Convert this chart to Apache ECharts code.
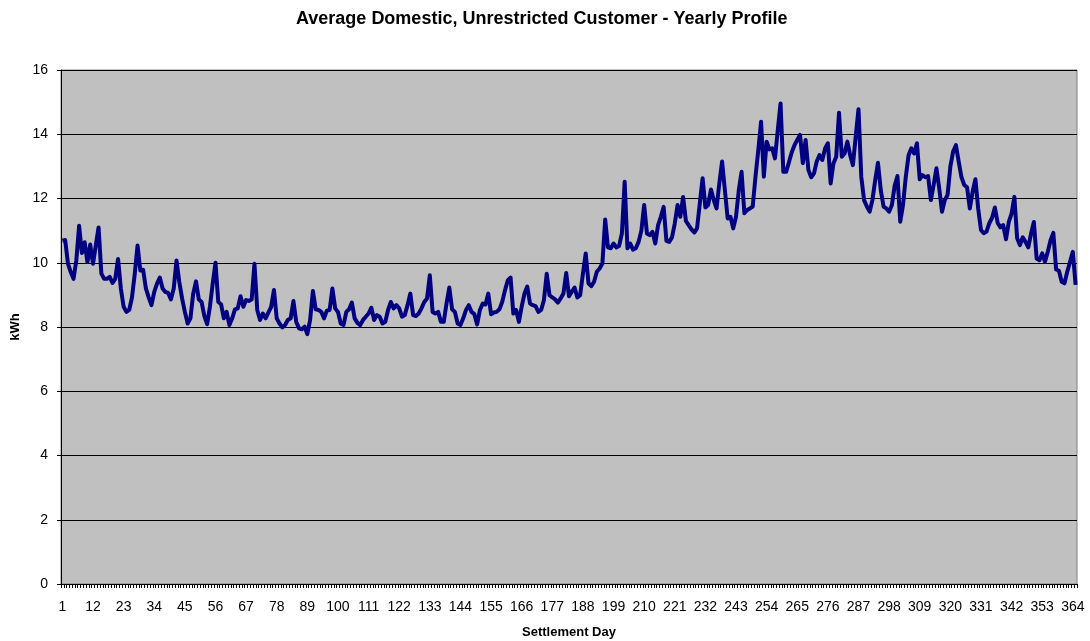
<!DOCTYPE html>
<html>
<head>
<meta charset="utf-8">
<script src="https://cdn.jsdelivr.net/npm/echarts@6/dist/echarts.min.js"></script>
<style>
  html, body { margin: 0; padding: 0; background: #fff; }
  #main { width: 1090px; height: 641px; }
</style>
</head>
<body>
<div id="main"></div>
<script>
// average kWh per settlement day
var kwh = [
  10.69, 10.71, 9.97, 9.71, 9.5, 10.07, 11.15, 10.3, 10.64, 10.02,
  10.57, 9.97, 10.54, 11.1, 9.66, 9.5, 9.5, 9.56, 9.37, 9.5,
  10.12, 9.2, 8.63, 8.47, 8.53, 8.92, 9.66, 10.54, 9.76, 9.78,
  9.2, 8.92, 8.68, 9.09, 9.35, 9.54, 9.2, 9.09, 9.06, 8.86,
  9.2, 10.07, 9.4, 8.89, 8.47, 8.11, 8.27, 9.04, 9.42, 8.86,
  8.78, 8.34, 8.09, 8.63, 9.35, 10.0, 8.78, 8.71, 8.27, 8.47,
  8.06, 8.27, 8.55, 8.58, 8.96, 8.63, 8.84, 8.81, 8.86, 9.97,
  8.53, 8.22, 8.42, 8.27, 8.45, 8.63, 9.15, 8.27, 8.11, 7.99,
  8.06, 8.22, 8.27, 8.81, 8.16, 7.96, 7.93, 8.01, 7.78, 8.22,
  9.12, 8.55, 8.53, 8.47, 8.27, 8.51, 8.53, 9.2, 8.58, 8.47,
  8.11, 8.06, 8.47, 8.55, 8.76, 8.27, 8.13, 8.06, 8.22, 8.32,
  8.42, 8.6, 8.22, 8.37, 8.32, 8.11, 8.16, 8.53, 8.78, 8.58,
  8.68, 8.58, 8.32, 8.37, 8.68, 9.04, 8.37, 8.34, 8.42, 8.58,
  8.78, 8.89, 9.61, 8.47, 8.42, 8.47, 8.16, 8.16, 8.73, 9.23,
  8.55, 8.47, 8.11, 8.06, 8.27, 8.53, 8.68, 8.47, 8.4, 8.08,
  8.53, 8.73, 8.7, 9.04, 8.4, 8.45, 8.47, 8.55, 8.78, 9.14,
  9.45, 9.54, 8.42, 8.53, 8.16, 8.63, 9.04, 9.26, 8.73, 8.68,
  8.65, 8.47, 8.53, 8.84, 9.66, 8.99, 8.92, 8.86, 8.76, 8.89,
  9.04, 9.68, 8.96, 9.1, 9.23, 8.92, 8.99, 9.66, 10.29, 9.36,
  9.27, 9.41, 9.72, 9.82, 9.98, 11.35, 10.48, 10.45, 10.6, 10.48,
  10.52, 10.91, 12.52, 10.45, 10.6, 10.41, 10.45, 10.65, 11.0, 11.8,
  10.91, 10.86, 10.96, 10.6, 11.17, 11.43, 11.74, 10.68, 10.65, 10.79,
  11.22, 11.8, 11.43, 12.05, 11.3, 11.17, 11.04, 10.94, 11.07, 11.85,
  12.63, 11.72, 11.8, 12.28, 11.95, 11.69, 12.47, 13.15, 12.26, 11.38,
  11.43, 11.07, 11.43, 12.26, 12.83, 11.54, 11.64, 11.69, 11.75, 12.68,
  13.5, 14.39, 12.68, 13.77, 13.53, 13.56, 13.25, 14.13, 14.96, 12.83,
  12.83, 13.12, 13.43, 13.66, 13.82, 13.98, 13.1, 13.82, 12.89, 12.66,
  12.78, 13.15, 13.35, 13.2, 13.56, 13.72, 12.47, 13.09, 13.3, 14.67,
  13.3, 13.4, 13.77, 13.35, 13.04, 13.92, 14.78, 12.68, 11.95, 11.75,
  11.59, 11.95, 12.57, 13.11, 12.26, 11.75, 11.69, 11.59, 11.8, 12.4,
  12.7, 11.28, 11.8, 12.68, 13.35, 13.56, 13.4, 13.72, 12.6, 12.73,
  12.66, 12.7, 11.95, 12.42, 12.94, 12.32, 11.59, 11.95, 12.11, 12.99,
  13.46, 13.66, 13.15, 12.66, 12.42, 12.35, 11.69, 12.21, 12.6, 11.69,
  11.02, 10.92, 10.97, 11.23, 11.4, 11.72, 11.24, 11.1, 11.17, 10.73,
  11.27, 11.53, 12.05, 10.76, 10.55, 10.79, 10.65, 10.48, 10.91, 11.27,
  10.13, 10.08, 10.29, 10.03, 10.34, 10.7, 10.93, 9.79, 9.75, 9.41,
  9.36, 9.72, 10.03, 10.34, 9.31
];

// settlement days 1..365
var days = [];
for (var i = 1; i <= kwh.length; i++) days.push(String(i));

var myChart = echarts.init(document.getElementById('main'));
var font = 'Liberation Sans, Arial, Helvetica, sans-serif';

option = {
    animation: false,
    textStyle: { fontFamily: font },
    title: {
        text: 'Average Domestic, Unrestricted Customer - Yearly Profile',
        left: 291,
        top: 5,
        textStyle: { fontSize: 18, fontWeight: 'bold', color: '#000', fontFamily: font }
    },
    grid: {
        left: 61,
        right: 13,
        top: 70,
        bottom: 57,
        outerBoundsMode: 'none',
        containLabel: false,
        show: true,
        backgroundColor: '#c0c0c0',
        borderColor: '#808080',
        borderWidth: 1
    },
    xAxis: {
        type: 'category',
        data: days,
        boundaryGap: true,
        name: 'Settlement Day',
        nameLocation: 'middle',
        nameGap: 42,
        nameTextStyle: { fontSize: 13, fontWeight: 'bold', color: '#000' },
        axisLine: { lineStyle: { color: '#000', width: 1 } },
        axisTick: { show: true, interval: 0, length: 4, lineStyle: { color: '#000' } },
        axisLabel: { interval: 10, fontSize: 14, color: '#000', margin: 16 },
        splitLine: { show: false }
    },
    yAxis: {
        type: 'value',
        min: 0,
        max: 16,
        interval: 2,
        name: 'kWh',
        nameLocation: 'middle',
        nameGap: 30,
        nameRotate: 90,
        nameTextStyle: { fontSize: 13, fontWeight: 'bold', color: '#000' },
        axisLine: { show: true, lineStyle: { color: '#000', width: 1 } },
        axisTick: { show: true, length: 4, lineStyle: { color: '#000' } },
        axisLabel: { fontSize: 14, color: '#000', margin: 13 },
        splitLine: { show: true, lineStyle: { color: '#000', width: 1 } }
    },
    series: [
        {
            name: 'kWh',
            type: 'line',
            data: kwh,
            showSymbol: false,
            symbol: 'none',
            lineStyle: { color: '#000080', width: 4, join: 'round' }
        }
    ]
};

myChart.setOption(option);
</script>
</body>
</html>
